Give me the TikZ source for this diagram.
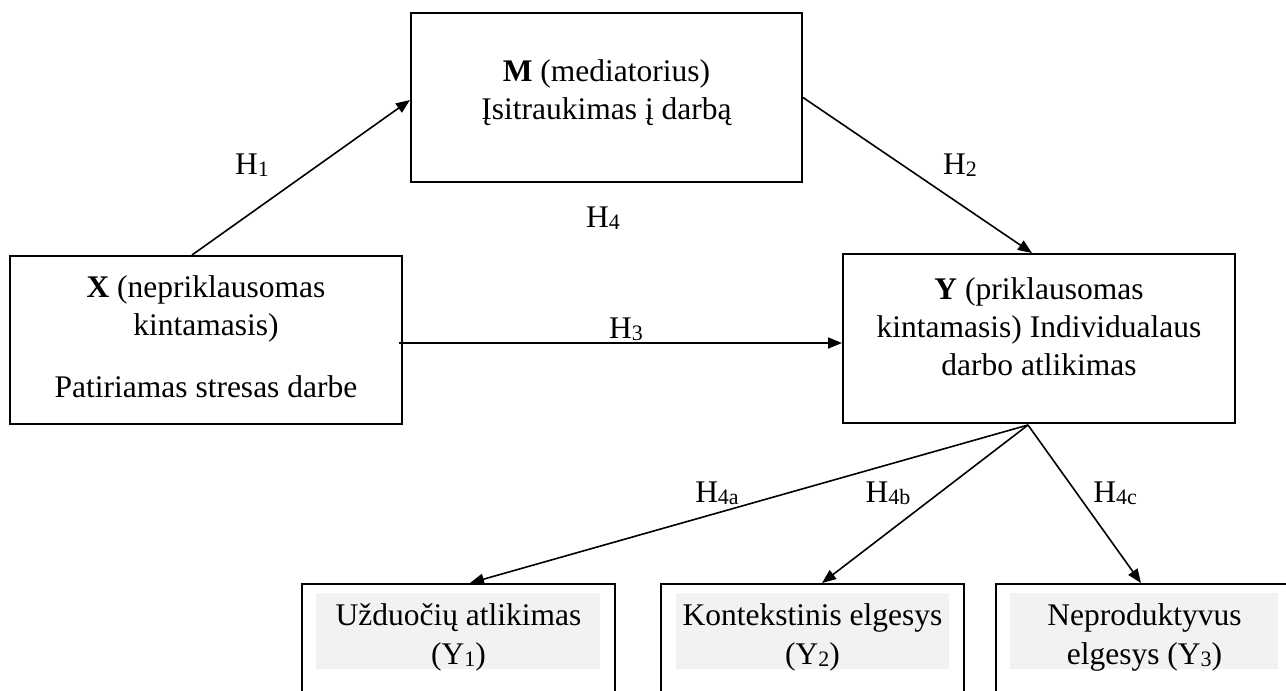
\documentclass[tikz,border=0pt]{standalone}
\usepackage{fontspec}
\setmainfont{Liberation Serif}
\usetikzlibrary{arrows.meta,calc}
\newcommand\mysubs[1]{\raisebox{-1.2pt}{\fontsize{11}{11}\selectfont #1}}
\begin{document}
\begin{tikzpicture}[x=0.5pt,y=-0.5pt,
  box/.style={draw=black, line width=1pt, inner sep=0pt},
  txt/.style={inner sep=0pt, align=center, anchor=north, font=\fontsize{15.75}{19}\selectfont},
  txtb/.style={txt, font=\fontsize{15.75}{19.5}\selectfont},
  lbl/.style={inner sep=0pt, anchor=base, font=\fontsize{15.75}{19}\selectfont},
  arr/.style={line width=0.8pt, -{Triangle[length=7pt,width=5.5pt]}},
  hilite/.style={fill=black!5}]
\clip (0,0) rectangle (1286,691);
\fill[white] (0,0) rectangle (1286,691);
% boxes
\node[box, minimum width=195.5pt, minimum height=84.5pt] (M) at (606.5,97.5) {};
\node[box, minimum width=196pt, minimum height=84pt] (X) at (206,340) {};
\node[box, minimum width=196pt, minimum height=84.5pt] (Y) at (1039,338.5) {};
\node[box, minimum width=156.5pt, minimum height=70pt, anchor=north] (Y1) at (458.5,583) {};
\node[box, minimum width=151.5pt, minimum height=70pt, anchor=north] (Y2) at (812.5,583) {};
\node[box, minimum width=148.5pt, minimum height=70pt, anchor=north] (Y3) at (1144.5,583) {};
% text highlights
\fill[hilite] ($(Y1.north west)+(15,10)$) rectangle ($(Y1.north east)+(-16,86)$);
\fill[hilite] ($(Y2.north west)+(16,10)$) rectangle ($(Y2.north east)+(-16,86)$);
\fill[hilite] ($(Y3.north west)+(15,10)$) rectangle ($(Y3.north east)+(-16,86)$);
% texts
\node[txt] (Mt) at (606.5,54.4) {\strut\textbf{M} (mediatorius)\\Įsitraukimas į darbą\strut};
\node[txt] (Xt) at (206,270.4) {\strut\textbf{X} (nepriklausomas\\kintamasis)\\[12pt]Patiriamas stresas darbe\strut};
\node[txt] (Yt) at (1039,272.4) {\strut\textbf{Y} (priklausomas\\kintamasis) Individualaus\\darbo atlikimas\strut};
\node[txtb] (Y1t) at (458.5,597.7) {\strut Užduočių atlikimas\\(Y\mysubs{1})\strut};
\node[txtb] (Y2t) at (812.5,597.7) {\strut Kontekstinis elgesys\\(Y\mysubs{2})\strut};
\node[txtb] (Y3t) at (1144.5,597.7) {\strut Neproduktyvus\\elgesys (Y\mysubs{3})\strut};
% labels
\node[lbl] (H1) at (252,174) {H\mysubs{1}};
\node[lbl] (H2) at (960,174) {H\mysubs{2}};
\node[lbl] (H4) at (603,227) {H\mysubs{4}};
\node[lbl] (H3) at (626,338) {H\mysubs{3}};
\node[lbl] (H4a) at (717,502) {H\mysubs{4a}};
\node[lbl] (H4b) at (888,502) {H\mysubs{4b}};
\node[lbl] (H4c) at (1115,502) {H\mysubs{4c}};
% connectors
\coordinate (h3s) at ($(X.east)+(-4,3)$);
\coordinate (J) at ($(Y.south)+(-11,1)$);
\draw[arr] ($(X.north)+(-14,0)$) -- ($(M.west)+(0,2.5)$);
\draw[arr] (M.east) -- ($(Y.north)+(-7,0)$);
\draw[arr] (h3s) -- (h3s -| Y.west);
\draw[arr] (J) -- ($(Y1.north)+(11.5,0)$);
\draw[arr] (J) -- ($(Y2.north)+(9.5,0)$);
\draw[arr] (J) -- ($(Y3.north)+(-3.5,0)$);
\end{tikzpicture}
\end{document}
